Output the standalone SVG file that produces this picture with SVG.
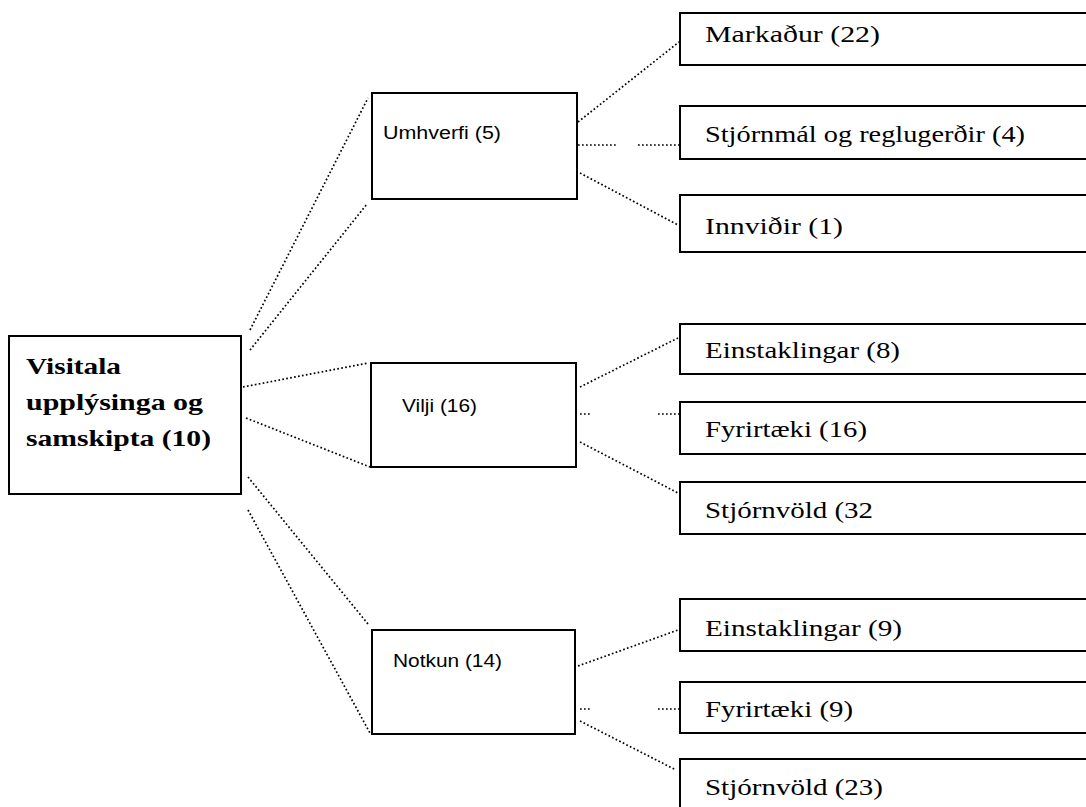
<svg xmlns="http://www.w3.org/2000/svg" width="1086" height="807" viewBox="0 0 1086 807">
<style>
.box{fill:#fff;stroke:#000;stroke-width:2}
.con{fill:none;stroke:#000;stroke-width:1.7;stroke-dasharray:1.7 2.3}
.main{font-family:"Liberation Serif",serif;font-weight:bold;font-size:24px;fill:#000}
.mid{font-family:"Liberation Sans",Arial,sans-serif;font-size:18px;fill:#000}
.leaf{font-family:"Liberation Serif",serif;font-size:23px;fill:#000}
</style>
<rect width="1086" height="807" fill="#fff"/>
<g id="connectors">
<line class="con" x1="250" y1="330" x2="368" y2="98"/>
<line class="con" x1="250" y1="350" x2="367" y2="204"/>
<line class="con" x1="243" y1="387" x2="368" y2="363"/>
<line class="con" x1="246" y1="418" x2="370" y2="467"/>
<line class="con" x1="248" y1="477" x2="368" y2="624"/>
<line class="con" x1="248" y1="510" x2="370" y2="733"/>
<line class="con" x1="578" y1="122" x2="679" y2="42"/>
<line class="con" x1="578" y1="145" x2="617" y2="145"/>
<line class="con" x1="638" y1="145" x2="680" y2="145"/>
<line class="con" x1="580" y1="173" x2="678" y2="225"/>
<line class="con" x1="580" y1="387" x2="678" y2="338"/>
<line class="con" x1="580" y1="414" x2="592" y2="414"/>
<line class="con" x1="658" y1="414" x2="680" y2="414"/>
<line class="con" x1="580" y1="442" x2="678" y2="493"/>
<line class="con" x1="578" y1="666" x2="678" y2="630"/>
<line class="con" x1="580" y1="709" x2="590" y2="709"/>
<line class="con" x1="658" y1="709" x2="680" y2="709"/>
<line class="con" x1="580" y1="721" x2="676" y2="770"/>
</g>
<g id="n-main"><rect class="box" x="9" y="336" width="232" height="158"/>
<text class="main" x="26" y="374" textLength="95" lengthAdjust="spacingAndGlyphs">Visitala</text>
<text class="main" x="26" y="410" textLength="177" lengthAdjust="spacingAndGlyphs">upplýsinga og</text>
<text class="main" x="26" y="446" textLength="185" lengthAdjust="spacingAndGlyphs">samskipta (10)</text></g>
<g id="n-umhverfi"><rect class="box" x="372" y="93" width="205" height="106"/><text class="mid" x="383" y="139" textLength="118" lengthAdjust="spacingAndGlyphs">Umhverfi (5)</text></g>
<g id="n-vilji"><rect class="box" x="371" y="363" width="205" height="104"/><text class="mid" x="402" y="412" textLength="75" lengthAdjust="spacingAndGlyphs">Vilji (16)</text></g>
<g id="n-notkun"><rect class="box" x="372" y="630" width="203" height="104"/><text class="mid" x="393" y="667" textLength="109" lengthAdjust="spacingAndGlyphs">Notkun (14)</text></g>
<g id="n-markadur"><rect class="box" x="680" y="13" width="420" height="52"/><text class="leaf" x="705" y="42" textLength="175" lengthAdjust="spacingAndGlyphs">Markaður (22)</text></g>
<g id="n-stjornmal"><rect class="box" x="680" y="106" width="420" height="53"/><text class="leaf" x="705" y="142" textLength="320" lengthAdjust="spacingAndGlyphs">Stjórnmál og reglugerðir (4)</text></g>
<g id="n-innvidir"><rect class="box" x="680" y="195" width="420" height="57"/><text class="leaf" x="705" y="234" textLength="138" lengthAdjust="spacingAndGlyphs">Innviðir (1)</text></g>
<g id="n-einst8"><rect class="box" x="680" y="324" width="420" height="50"/><text class="leaf" x="705" y="358" textLength="195" lengthAdjust="spacingAndGlyphs">Einstaklingar (8)</text></g>
<g id="n-fyrir16"><rect class="box" x="680" y="402" width="420" height="52"/><text class="leaf" x="705" y="437" textLength="162" lengthAdjust="spacingAndGlyphs">Fyrirtæki (16)</text></g>
<g id="n-stjorn32"><rect class="box" x="680" y="482" width="420" height="52"/><text class="leaf" x="705" y="518" textLength="168" lengthAdjust="spacingAndGlyphs">Stjórnvöld (32</text></g>
<g id="n-einst9"><rect class="box" x="680" y="599" width="420" height="52"/><text class="leaf" x="705" y="636" textLength="197" lengthAdjust="spacingAndGlyphs">Einstaklingar (9)</text></g>
<g id="n-fyrir9"><rect class="box" x="680" y="682" width="420" height="51"/><text class="leaf" x="705" y="717" textLength="148" lengthAdjust="spacingAndGlyphs">Fyrirtæki (9)</text></g>
<g id="n-stjorn23"><rect class="box" x="680" y="759" width="420" height="60"/><text class="leaf" x="705" y="795" textLength="178" lengthAdjust="spacingAndGlyphs">Stjórnvöld (23)</text></g>
</svg>
